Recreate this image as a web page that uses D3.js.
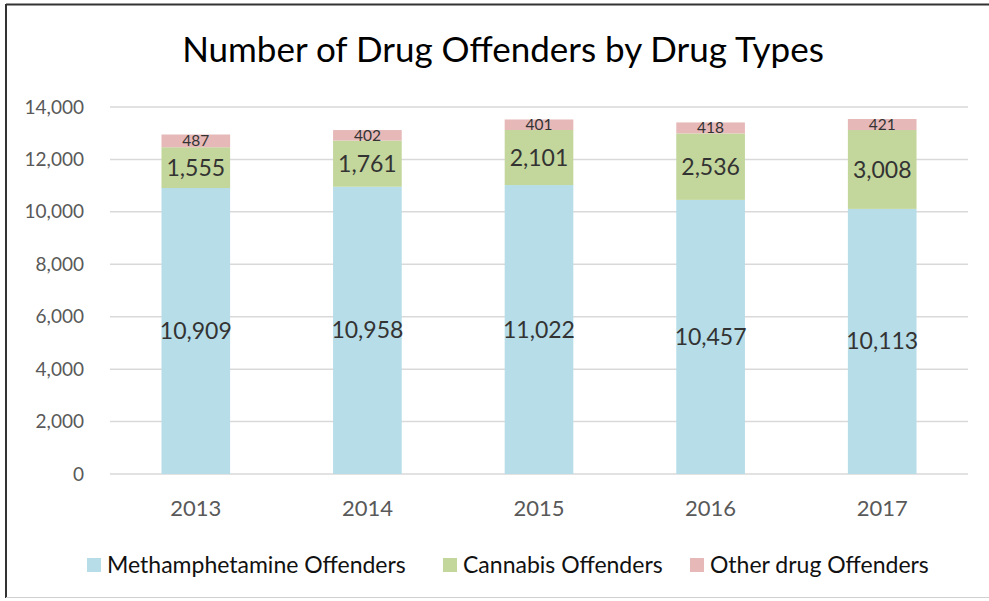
<!DOCTYPE html>
<html>
<head>
<meta charset="utf-8">
<script src="https://cdn.jsdelivr.net/npm/d3@7"></script>
<style>
  body { margin: 0; background: #fff; }
  text { font-family: Lato, "Open Sans", sans-serif; }
</style>
</head>
<body>
<svg id="chart" width="989" height="601"></svg>
<script>
const years = ["2013", "2014", "2015", "2016", "2017"];
const meth = [10909, 10958, 11022, 10457, 10113];
const cannabis = [1555, 1761, 2101, 2536, 3008];
const other = [487, 402, 401, 418, 421];
const seriesNames = ["Methamphetamine Offenders", "Cannabis Offenders", "Other drug Offenders"];
const yTicks = [0, 2000, 4000, 6000, 8000, 10000, 12000, 14000];

const colors = ["#b6dde8", "#c3d69b", "#e6b9b8"];
const svg = d3.select("#chart");

// chart frame
svg.append("line").attr("x1", 6).attr("x2", 989).attr("y1", 4.5).attr("y2", 4.5)
   .attr("stroke", "#333").attr("stroke-width", 2);
svg.append("line").attr("x1", 6).attr("x2", 6).attr("y1", 4).attr("y2", 598)
   .attr("stroke", "#333").attr("stroke-width", 2);
svg.append("line").attr("x1", 6).attr("x2", 989).attr("y1", 597.5).attr("y2", 597.5)
   .attr("stroke", "#d0d0d0").attr("stroke-width", 1);

svg.append("text")
   .attr("x", 503).attr("y", 62)
   .attr("text-anchor", "middle")
   .attr("font-size", 35)
   .attr("fill", "#000")
   .text("Number of Drug Offenders by Drug Types");

const margin = { left: 110, top: 107, right: 21, bottom: 127 };
const innerWidth = 989 - margin.left - margin.right;
const innerHeight = 601 - margin.top - margin.bottom;

const g = svg.append("g").attr("transform", `translate(${margin.left}, ${margin.top})`);

const xScale = d3.scaleBand().domain(years).range([0, innerWidth]).paddingInner(0.6).paddingOuter(0.3);
const yScale = d3.scaleLinear().domain([0, 14000]).range([innerHeight, 0]);

// gridlines
g.append("g").selectAll("line").data(yTicks).enter().append("line")
 .attr("x1", 0).attr("x2", innerWidth)
 .attr("y1", d => yScale(d)).attr("y2", d => yScale(d))
 .attr("stroke", "#d9d9d9").attr("stroke-width", 1.5);

const yAxis = d3.axisLeft(yScale).tickValues(yTicks).tickFormat(d3.format(",")).tickSize(0).tickPadding(26);
g.append("g").call(yAxis)
 .call(s => s.select(".domain").remove())
 .selectAll("text").attr("font-size", 19).attr("fill", "#595959").attr("font-family", "Lato, sans-serif");

const xAxis = d3.axisBottom(xScale).tickSize(0).tickPadding(26);
g.append("g").attr("transform", `translate(0, ${innerHeight})`).call(xAxis)
 .call(s => s.select(".domain").remove())
 .selectAll("text").attr("font-size", 22).attr("fill", "#595959").attr("font-family", "Lato, sans-serif");

const rows = years.map((y, i) => ({ year: y, meth: meth[i], cannabis: cannabis[i], other: other[i] }));
const keys = ["meth", "cannabis", "other"];
const stacked = d3.stack().keys(keys)(rows);

const layers = g.selectAll(".layer").data(stacked).enter().append("g")
 .attr("fill", (d, i) => colors[i]);

layers.selectAll("rect").data(d => d).enter().append("rect")
 .attr("x", d => xScale(d.data.year))
 .attr("width", xScale.bandwidth())
 .attr("y", d => yScale(d[1]))
 .attr("height", d => yScale(d[0]) - yScale(d[1]));

const labelSizes = [23, 23, 15.5];
stacked.forEach((layer, li) => {
  g.append("g").selectAll("text").data(layer).enter().append("text")
   .attr("x", d => xScale(d.data.year) + xScale.bandwidth() / 2)
   .attr("y", d => yScale((d[0] + d[1]) / 2))
   .attr("dy", "0.35em")
   .attr("text-anchor", "middle")
   .attr("font-size", labelSizes[li])
   .attr("fill", "#333")
   .text(d => d3.format(",")(d[1] - d[0]));
});

// legend
const legendX = [87, 443, 690];
const legend = svg.append("g").attr("transform", "translate(0, 565)");
seriesNames.forEach((name, i) => {
  legend.append("rect").attr("x", legendX[i]).attr("y", -7).attr("width", 14).attr("height", 14).attr("fill", colors[i]);
  legend.append("text").attr("x", legendX[i] + 20).attr("y", 0).attr("dy", "0.35em")
   .attr("font-size", 23).attr("fill", "#111").text(name);
});
</script>
</body>
</html>
